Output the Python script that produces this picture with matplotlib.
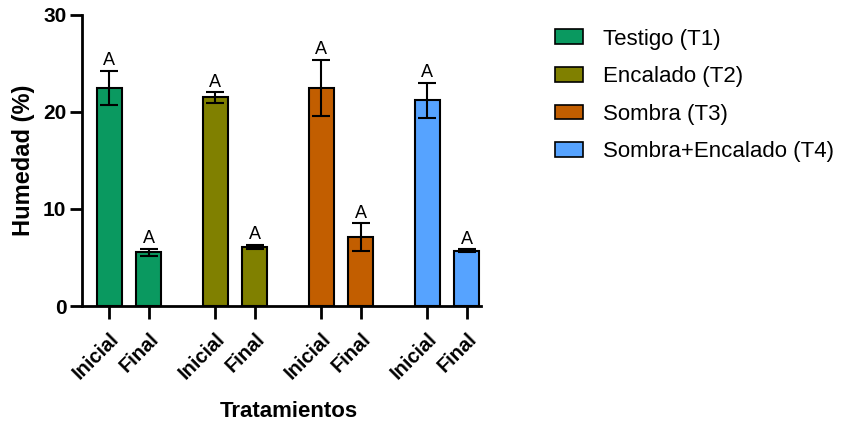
import matplotlib.pyplot as plt
from matplotlib.patches import Patch

plt.rcParams['font.family'] = ['Liberation Sans', 'DejaVu Sans']

treatments = ["Testigo (T1)", "Encalado (T2)", "Sombra (T3)", "Sombra+Encalado (T4)"]
colors = ["#0a9960", "#808000", "#c25e00", "#56a3ff"]
moments = ["Inicial", "Final"]

# mean moisture (%) per treatment: [Inicial, Final]
means = [[22.5, 5.55], [21.5, 6.1], [22.5, 7.1], [21.2, 5.7]]
errors = [[1.75, 0.35], [0.55, 0.2], [2.9, 1.45], [1.8, 0.13]]
letters = [["A", "A"], ["A", "A"], ["A", "A"], ["A", "A"]]

group_step = 2.69
bar_w = 0.64

fig = plt.figure(figsize=(8.43, 4.25), dpi=100)
ax = fig.add_axes([0.097, 0.28, 0.473, 0.685])

positions = []
labels = []
for i, name in enumerate(treatments):
    x = [i * group_step, i * group_step + 1]
    ax.bar(x, means[i], width=bar_w, color=colors[i], edgecolor='black', linewidth=1.5,
           yerr=errors[i], capsize=6.5,
           error_kw=dict(elinewidth=1.5, capthick=1.5, ecolor='black'), zorder=2)
    for xi, m, e, t in zip(x, means[i], errors[i], letters[i]):
        ax.text(xi, m + e + 0.15, t, ha='center', va='bottom', fontsize=13)
    positions += x
    labels += moments

ax.set_xlim(-0.7, 3 * group_step + 1.35)
ax.set_ylim(0, 30)
ax.set_yticks([0, 10, 20, 30])
ax.set_xticks(positions)
ax.set_xticklabels(labels, rotation=45, ha='right', rotation_mode='anchor',
                   fontsize=14.5, fontweight='bold')
for lab in ax.get_yticklabels():
    lab.set_fontsize(15)
    lab.set_fontweight('bold')

for side in ['top', 'right']:
    ax.spines[side].set_visible(False)
for side in ['left', 'bottom']:
    ax.spines[side].set_linewidth(2)
ax.tick_params(axis='both', length=9, width=2, pad=2)
ax.tick_params(axis='x', pad=8)

ax.set_ylabel("Humedad (%)", fontsize=17, fontweight='bold', labelpad=6)
ax.set_xlabel("Tratamientos", fontsize=16, fontweight='bold')
ax.xaxis.set_label_coords(0.518, -0.325)

handles = [Patch(facecolor=c, edgecolor='black', linewidth=1.2) for c in colors]
fig.legend(handles, treatments, loc='upper left', bbox_to_anchor=(0.635, 0.98),
           frameon=False, fontsize=16, handlelength=1.26, handleheight=0.63,
           labelspacing=0.75, handletextpad=0.9)

fig.savefig("out.png", dpi=100)
